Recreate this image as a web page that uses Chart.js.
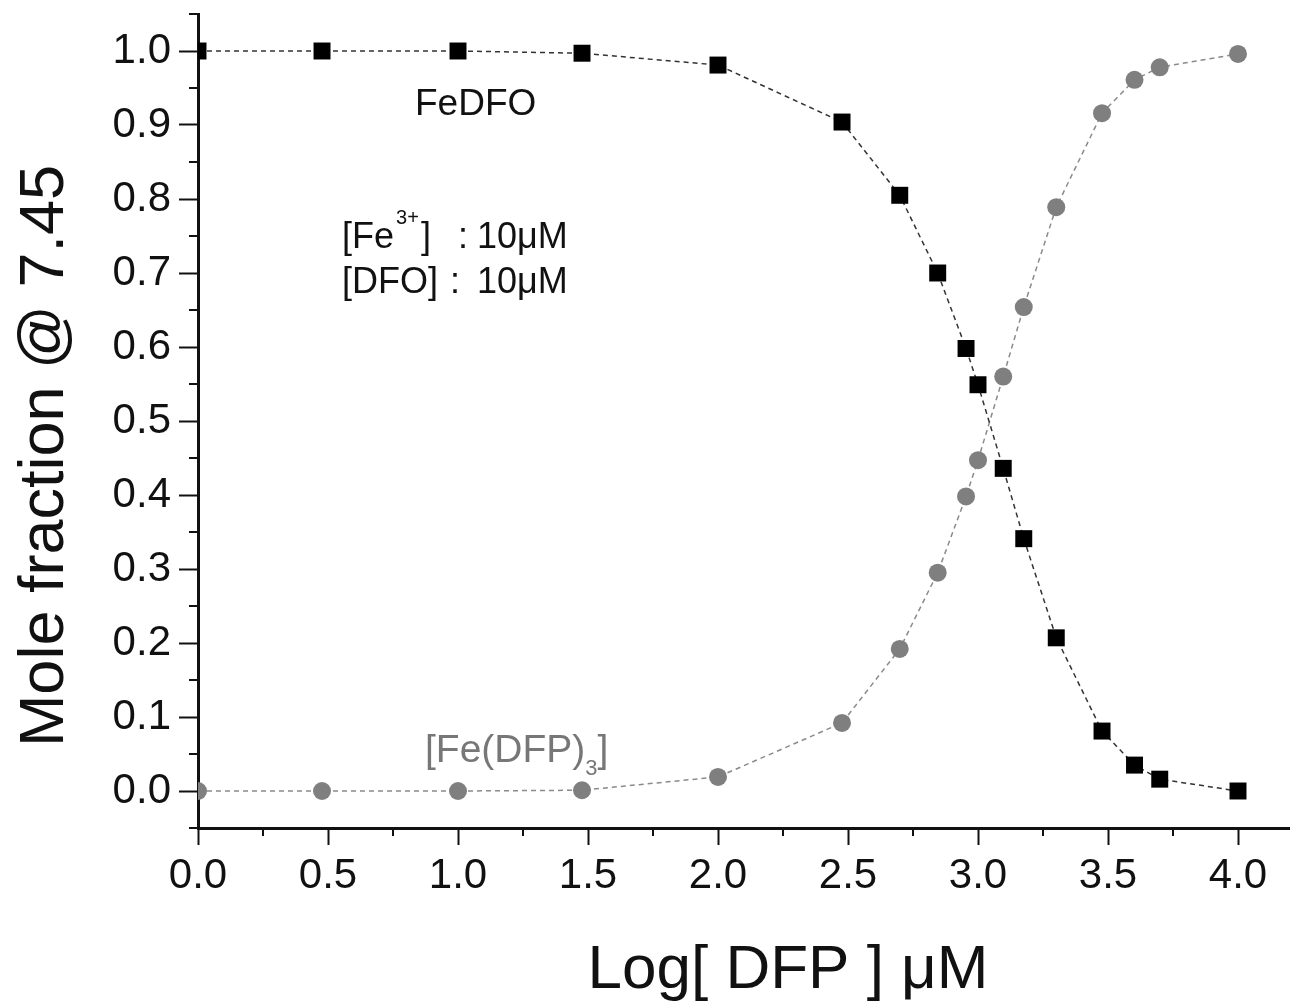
<!DOCTYPE html>
<html>
<head>
<meta charset="utf-8">
<title>Mole fraction vs Log[DFP]</title>
<script src="https://cdn.jsdelivr.net/npm/chart.js@4.4.1/dist/chart.umd.min.js"></script>
<style>
  body { margin: 0; background: #ffffff; }
  #moleChart { display: block; }
</style>
</head>
<body>
<canvas id="moleChart" width="1290" height="1006"></canvas>
<script>
// data
const logDFP = [0, 0.477, 1.0, 1.477, 2.0, 2.477, 2.699, 2.845, 2.954, 3.0, 3.097, 3.176, 3.301, 3.477, 3.602, 3.699, 4.0];
const feDFO = [1.0, 1.0, 1.0, 0.997, 0.981, 0.904, 0.805, 0.700, 0.598, 0.549, 0.436, 0.341, 0.207, 0.081, 0.035, 0.016, 0.0];
const feDFP3 = [0.0, 0.0, 0.0, 0.001, 0.019, 0.092, 0.192, 0.295, 0.398, 0.447, 0.560, 0.654, 0.789, 0.916, 0.961, 0.978, 0.996];

// tick values
const xTicks = [0, 0.5, 1.0, 1.5, 2.0, 2.5, 3.0, 3.5, 4.0];
const xMinorTicks = [0.25, 0.75, 1.25, 1.75, 2.25, 2.75, 3.25, 3.75];
const yTicks = [0, 0.1, 0.2, 0.3, 0.4, 0.5, 0.6, 0.7, 0.8, 0.9, 1.0];
const yMinorTicks = [-0.05, 0.05, 0.15, 0.25, 0.35, 0.45, 0.55, 0.65, 0.75, 0.85, 0.95, 1.05];

const FONT = "'Liberation Sans', Arial, Helvetica, sans-serif";

function toPoints(xs, ys) {
    return xs.map((x, i) => ({ x: x, y: ys[i] }));
}

// minor ticks, axis titles and in-plot labels
const extrasPlugin = {
    id: 'extras',
    afterDraw(chart) {
        const ctx = chart.ctx;
        const xs = chart.scales.x;
        const ys = chart.scales.y;
        const area = chart.chartArea;

        ctx.save();
        ctx.strokeStyle = '#111';
        ctx.lineWidth = 2;
        ctx.beginPath();
        xMinorTicks.forEach(v => {
            const px = xs.getPixelForValue(v);
            ctx.moveTo(px, area.bottom);
            ctx.lineTo(px, area.bottom + 8);
        });
        yMinorTicks.forEach(v => {
            const py = ys.getPixelForValue(v);
            ctx.moveTo(area.left - 9, py);
            ctx.lineTo(area.left, py);
        });
        ctx.stroke();

        // axis titles
        ctx.fillStyle = '#111';
        ctx.textBaseline = 'alphabetic';
        ctx.textAlign = 'center';
        ctx.font = '62px ' + FONT;
        ctx.fillText('Log[ DFP ] \u03BCM', 788, 988);

        ctx.save();
        ctx.translate(63, 456);
        ctx.rotate(-Math.PI / 2);
        ctx.font = '63px ' + FONT;
        ctx.fillText('Mole fraction @ 7.45', 0, 0);
        ctx.restore();

        // labels inside the plot
        ctx.textAlign = 'left';
        ctx.font = '37px ' + FONT;
        ctx.fillText('FeDFO', 415, 115);

        ctx.font = '36px ' + FONT;
        ctx.fillText('[Fe', 342, 248);
        let w = ctx.measureText('[Fe').width;
        ctx.font = '20px ' + FONT;
        ctx.fillText('3+', 342 + w + 2, 224);
        ctx.font = '36px ' + FONT;
        ctx.fillText(']', 421, 248);
        ctx.fillText(':', 458, 248);
        ctx.fillText('10\u03BCM', 477, 248);

        ctx.fillText('[DFO]', 342, 293);
        ctx.fillText(':', 450, 293);
        ctx.fillText('10\u03BCM', 477, 293);

        ctx.fillStyle = '#777';
        ctx.font = '39px ' + FONT;
        ctx.fillText('[Fe(DFP)', 425, 762);
        w = ctx.measureText('[Fe(DFP)').width;
        ctx.font = '22px ' + FONT;
        ctx.fillText('3', 425 + w, 775);
        const w2 = ctx.measureText('3').width;
        ctx.font = '39px ' + FONT;
        ctx.fillText(']', 425 + w + w2, 762);

        ctx.restore();
    }
};

const ctx = document.getElementById('moleChart').getContext('2d');
const moleChart = new Chart(ctx, {
    type: 'scatter',
    data: {
        datasets: [
            {
                label: 'FeDFO',
                data: toPoints(logDFP, feDFO),
                showLine: true,
                borderColor: '#333',
                borderWidth: 1.5,
                borderDash: [5, 4],
                pointStyle: 'rect',
                pointRadius: 12,
                pointBackgroundColor: '#000',
                pointBorderColor: '#000',
                pointBorderWidth: 0
            },
            {
                label: '[Fe(DFP)3]',
                data: toPoints(logDFP, feDFP3),
                showLine: true,
                borderColor: '#8a8a8a',
                borderWidth: 1.5,
                borderDash: [5, 4],
                pointStyle: 'circle',
                pointRadius: 9,
                pointBackgroundColor: '#7f7f7f',
                pointBorderColor: '#7f7f7f',
                pointBorderWidth: 0
            }
        ]
    },
    options: {
        responsive: false,
        maintainAspectRatio: false,
        animation: false,
        layout: { autoPadding: false, padding: { top: 14, right: 0, left: 0, bottom: 0 } },
        plugins: {
            legend: { display: false },
            tooltip: { enabled: false }
        },
        scales: {
            x: {
                type: 'linear',
                min: 0,
                max: 4.2,
                afterBuildTicks: (axis) => { axis.ticks = xTicks.map(v => ({ value: v })); },
                afterFit: (axis) => {
                    axis.height = 178;
                    axis.paddingLeft = 0;
                    axis.paddingRight = 0;
                },
                grid: { drawOnChartArea: false, drawTicks: true, tickLength: 17, tickWidth: 2, tickColor: '#111' },
                border: { color: '#111', width: 3 },
                ticks: {
                    autoSkip: false,
                    maxRotation: 0,
                    padding: 6,
                    color: '#111',
                    font: { family: FONT, size: 42 },
                    callback: (v) => Number(v).toFixed(1)
                }
            },
            y: {
                type: 'linear',
                min: -0.05,
                max: 1.05,
                afterBuildTicks: (axis) => { axis.ticks = yTicks.map(v => ({ value: v })); },
                afterFit: (axis) => {
                    axis.width = 198;
                    axis.paddingTop = 0;
                    axis.paddingBottom = 0;
                },
                grid: { drawOnChartArea: false, drawTicks: true, tickLength: 19, tickWidth: 2, tickColor: '#111' },
                border: { color: '#111', width: 3 },
                ticks: {
                    autoSkip: false,
                    padding: 8,
                    color: '#111',
                    font: { family: FONT, size: 42 },
                    callback: (v) => Number(v).toFixed(1)
                }
            }
        }
    },
    plugins: [extrasPlugin]
});
</script>
</body>
</html>
